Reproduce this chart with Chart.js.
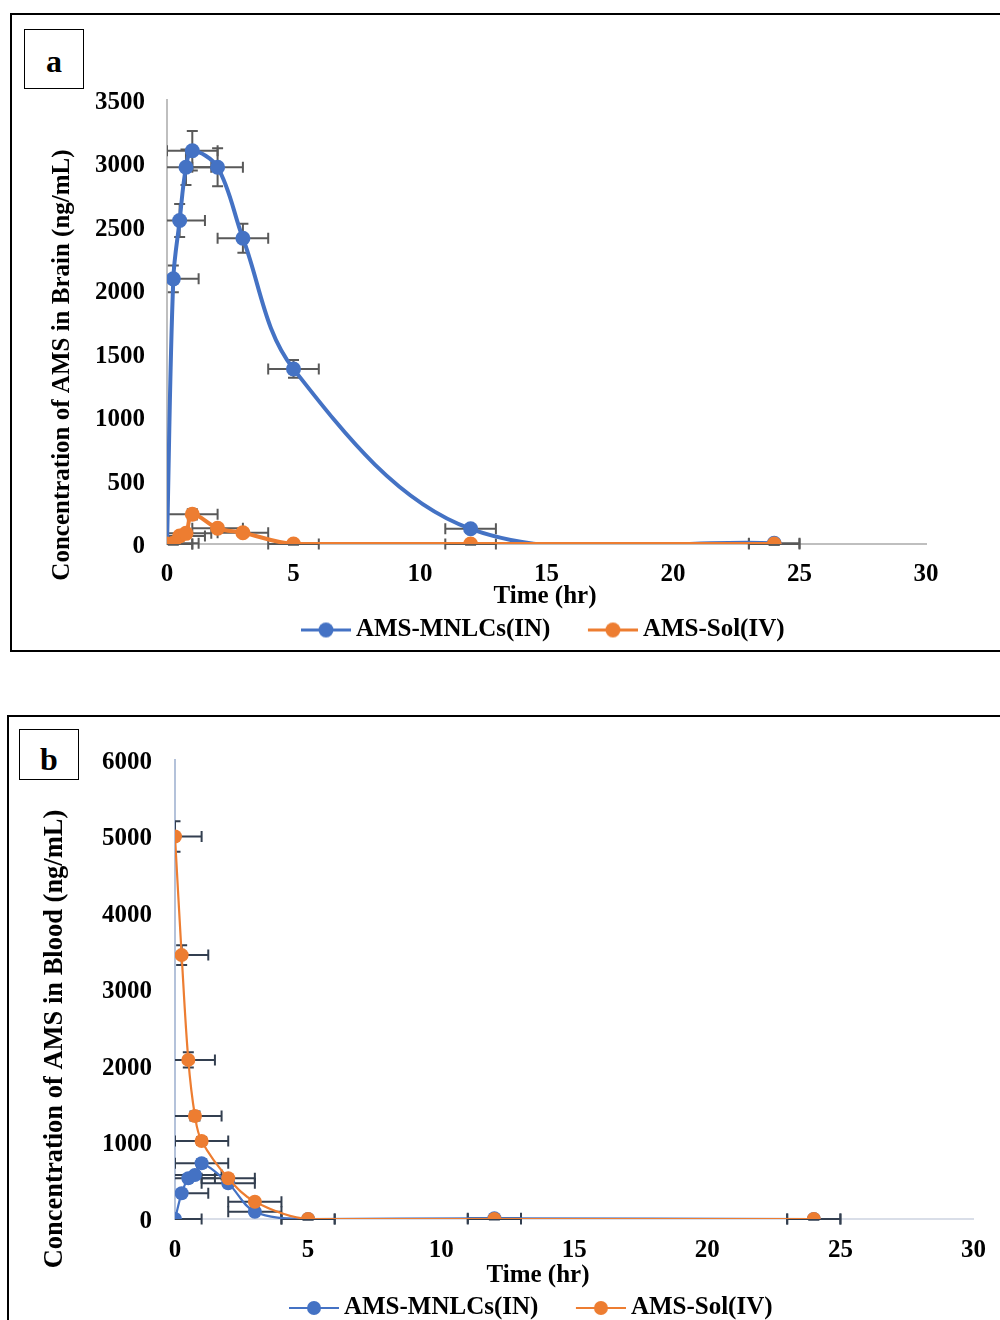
<!DOCTYPE html>
<html lang="en">
<head>
<meta charset="UTF-8" />
<title>AMS concentration in brain and blood</title>
<script src="https://cdn.jsdelivr.net/npm/chart.js"></script>
<style>
  html, body { margin: 0; padding: 0; }
  body { width: 1000px; height: 1320px; overflow: hidden; position: relative; background: #fff;
         font-family: "Liberation Serif", "Times New Roman", serif; }
  .panel { position: absolute; border: 2px solid #000; box-sizing: border-box; }
  #panelA { left: 10px; top: 13px; width: 1010px; height: 639px; }
  #panelB { left: 7px; top: 715px; width: 1010px; height: 660px; }
  .tag { position: absolute; border: 1.5px solid #000; box-sizing: border-box; background: #fff;
         font-weight: bold; font-size: 32px; text-align: center; }
  #tagA { left: 24px; top: 29px; width: 60px; height: 60px; line-height: 62px; }
  #tagB { left: 19px; top: 729px; width: 60px; height: 51px; line-height: 59px; }
  .wrap { position: absolute; }
  #wrapA { left: 10px; top: 13px; width: 990px; height: 640px; }
  #wrapB { left: 7px; top: 715px; width: 996px; height: 630px; }
</style>
</head>
<body>
  <div class="panel" id="panelA"></div>
  <div class="panel" id="panelB"></div>
  <div class="wrap" id="wrapA"><canvas id="brainChart"></canvas></div>
  <div class="wrap" id="wrapB"><canvas id="bloodChart"></canvas></div>
  <div class="tag" id="tagA">a</div>
  <div class="tag" id="tagB">b</div>

<script>
// sampling times (hr) and their error (hr)
const timeHr  = [0, 0.25, 0.5, 0.75, 1, 2, 3, 5, 12, 24];
const timeErr = [1, 1, 1, 1, 1, 1, 1, 1, 1, 1];

const seriesNames  = ['AMS-MNLCs(IN)', 'AMS-Sol(IV)'];
const seriesColors = ['#4472C4', '#ED7D31'];

// brain (ng/mL)
const brainMnlc   = [0, 2090, 2550, 2970, 3100, 2970, 2410, 1380, 120, 5];
const brainMnlcSd = [0, 105, 130, 140, 155, 150, 115, 70, 30, 10];
const brainSol    = [0, 5, 63, 84, 234, 124, 89, 0, 0, 0];
const brainSolSd  = [0, 10, 20, 25, 40, 30, 25, 5, 5, 5];

// blood (ng/mL)
const bloodMnlc   = [0, 336, 532, 575, 728, 467, 95, 0, 10, 0];
const bloodMnlcSd = [0, 30, 40, 40, 50, 40, 20, 5, 5, 5];
const bloodSol    = [5000, 3450, 2080, 1346, 1020, 532, 226, 0, 0, 0];
const bloodSolSd  = [200, 130, 100, 60, 50, 40, 30, 5, 5, 5];

const xTicks      = [0, 5, 10, 15, 20, 25, 30];
const brainYTicks = [0, 500, 1000, 1500, 2000, 2500, 3000, 3500];
const bloodYTicks = [0, 1000, 2000, 3000, 4000, 5000, 6000];

const xTitle      = 'Time (hr)';
const brainYTitle = 'Concentration of AMS in Brain (ng/mL)';
const bloodYTitle = 'Concentration of AMS in Blood (ng/mL)';

const FONT = '"Liberation Serif", "Times New Roman", serif';
const FSIZE = 25;
Chart.defaults.font.family = FONT;
Chart.defaults.font.size = FSIZE;
Chart.defaults.font.weight = 'bold';
Chart.defaults.color = '#000';

// x and y error bars, drawn under the lines
const errorBars = {
  id: 'errorBars',
  beforeDatasetsDraw(chart, args, opts) {
    const { ctx, chartArea: area, scales: { x, y } } = chart;
    ctx.save();
    ctx.beginPath();
    ctx.rect(area.left, 0, area.right - area.left, chart.height);
    ctx.clip();
    ctx.strokeStyle = opts.color;
    ctx.lineWidth = opts.width;
    const c = opts.cap;
    chart.data.datasets.forEach(ds => {
      ds.data.forEach((p, i) => {
        const px = x.getPixelForValue(p.x);
        const py = y.getPixelForValue(p.y);
        const x0 = x.getPixelForValue(p.x - ds.errX[i]);
        const x1 = x.getPixelForValue(p.x + ds.errX[i]);
        ctx.beginPath();
        ctx.moveTo(x0, py); ctx.lineTo(x1, py);
        ctx.moveTo(x0, py - c); ctx.lineTo(x0, py + c);
        ctx.moveTo(x1, py - c); ctx.lineTo(x1, py + c);
        if (ds.errY[i] > 0) {
          const y0 = y.getPixelForValue(p.y - ds.errY[i]);
          const y1 = y.getPixelForValue(p.y + ds.errY[i]);
          ctx.moveTo(px, y0); ctx.lineTo(px, y1);
          ctx.moveTo(px - c, y0); ctx.lineTo(px + c, y0);
          ctx.moveTo(px - c, y1); ctx.lineTo(px + c, y1);
        }
        ctx.stroke();
      });
    });
    ctx.restore();
  }
};

// move the legend row so that its centre sits where the original has it
const legendShift = {
  id: 'legendShift',
  afterLayout(chart, args, opts) {
    const lg = chart.legend;
    if (!lg) return;
    const w = lg.right - lg.left;
    lg.left = opts.centerX - w / 2;
    lg.right = lg.left + w;
  }
};

// axis titles placed freely (Excel does not centre them on the plot)
const freeTitles = {
  id: 'freeTitles',
  afterDraw(chart, args, opts) {
    const ctx = chart.ctx;
    ctx.save();
    ctx.fillStyle = '#000';
    ctx.textAlign = 'center';
    ctx.textBaseline = 'middle';
    opts.items.forEach(it => {
      ctx.save();
      ctx.font = 'bold ' + (it.size || FSIZE) + 'px ' + FONT;
      ctx.translate(it.x, it.y);
      ctx.rotate(it.rotate || 0);
      ctx.fillText(it.text, 0, 0);
      ctx.restore();
    });
    ctx.restore();
  }
};

// legend marker: a 50px line with a dot, sitting at the right end of a wider image
// so that the gaps around it look like Excel's
const SWATCH_W = 85;
function legendSwatch(color, lineW, r) {
  const c = document.createElement('canvas');
  c.width = SWATCH_W;
  c.height = 2 * r + 2;
  const g = c.getContext('2d');
  g.strokeStyle = color;
  g.lineWidth = lineW;
  g.beginPath();
  g.moveTo(SWATCH_W - 50, c.height / 2);
  g.lineTo(SWATCH_W, c.height / 2);
  g.stroke();
  g.fillStyle = color;
  g.beginPath();
  g.arc(SWATCH_W - 25, c.height / 2, r, 0, Math.PI * 2);
  g.fill();
  return c;
}

function buildPanel(canvasId, s) {
  const datasets = [0, 1].map(k => ({
    label: seriesNames[k],
    data: timeHr.map((t, i) => ({ x: t, y: s.values[k][i] })),
    errX: timeErr,
    errY: s.errors[k],
    showLine: true,
    borderColor: seriesColors[k],
    backgroundColor: seriesColors[k],
    borderWidth: s.lineWidth,
    pointRadius: s.pointRadius,
    pointHoverRadius: s.pointRadius,
    pointBorderWidth: 0,
    tension: 0.35,
    capBezierPoints: k === 0 ? s.capFirst : true,
    order: 1 - k,
    swatch: legendSwatch(seriesColors[k], s.legendLine, s.pointRadius)
  }));

  return new Chart(document.getElementById(canvasId), {
    type: 'scatter',
    data: { datasets },
    plugins: [errorBars, legendShift, freeTitles],
    options: {
      responsive: true,
      maintainAspectRatio: false,
      animation: false,
      layout: { padding: s.pad },
      scales: {
        x: {
          type: 'linear',
          min: 0,
          max: 30,
          afterBuildTicks: sc => { sc.ticks = xTicks.map(v => ({ value: v })); },
          afterFit: sc => { sc.height = s.xAxisH; },
          grid: { display: false, drawTicks: false },
          border: { display: true, color: s.xAxisColor, width: 2 },
          ticks: { padding: s.xTickPad, color: '#000', callback: v => String(v) }
        },
        y: {
          min: 0,
          max: s.yTicks[s.yTicks.length - 1],
          afterBuildTicks: sc => { sc.ticks = s.yTicks.map(v => ({ value: v })); },
          afterFit: sc => { sc.width = s.yAxisW; },
          grid: { display: false, drawTicks: false },
          border: { display: true, color: s.yAxisColor, width: 2 },
          ticks: { padding: s.yTickPad, labelOffset: 2.5, color: '#000', callback: v => String(v) }
        }
      },
      plugins: {
        legend: {
          position: 'bottom',
          labels: {
            usePointStyle: true,
            pointStyleWidth: 70,
            padding: 10,
            color: '#000',
            generateLabels: ch => ch.data.datasets.map((ds, i) => ({
              text: ds.label,
              pointStyle: ds.swatch,
              datasetIndex: i,
              hidden: !ch.isDatasetVisible(i),
              fillStyle: ds.borderColor,
              strokeStyle: ds.borderColor,
              lineWidth: 0,
              fontColor: '#000'
            }))
          }
        },
        tooltip: { enabled: false },
        errorBars: { color: s.errColor, width: 2, cap: 5.5 },
        legendShift: { centerX: s.legendX },
        freeTitles: { items: s.titles }
      }
    }
  });
}

buildPanel('brainChart', {
  values: [brainMnlc, brainSol],
  errors: [brainMnlcSd, brainSolSd],
  yTicks: brainYTicks,
  lineWidth: 4,
  legendLine: 3,
  pointRadius: 7.5,
  capFirst: false,
  pad: { top: 87, right: 74, bottom: 0.5, left: 0 },
  yAxisW: 157,
  xAxisH: 63.5,
  xTickPad: 16,
  yTickPad: 22,
  xAxisColor: '#bfbfbf',
  yAxisColor: '#bfbfbf',
  errColor: '#595959',
  legendX: 519,
  titles: [
    { text: xTitle, x: 535, y: 584 },
    { text: brainYTitle, x: 53, y: 352, rotate: -Math.PI / 2 }
  ]
});

buildPanel('bloodChart', {
  values: [bloodMnlc, bloodSol],
  errors: [bloodMnlcSd, bloodSolSd],
  yTicks: bloodYTicks,
  lineWidth: 2.2,
  legendLine: 2,
  pointRadius: 7,
  capFirst: true,
  pad: { top: 45, right: 0, bottom: 14.5, left: 0 },
  yAxisW: 168,
  xAxisH: 66.5,
  xTickPad: 17,
  yTickPad: 23,
  xAxisColor: '#d9dee8',
  yAxisColor: '#b4c2da',
  errColor: '#333f50',
  legendX: 510,
  titles: [
    { text: xTitle, x: 531, y: 561 },
    { text: bloodYTitle, x: 48, y: 324, size: 26.5, rotate: -Math.PI / 2 }
  ]
});
</script>
</body>
</html>
